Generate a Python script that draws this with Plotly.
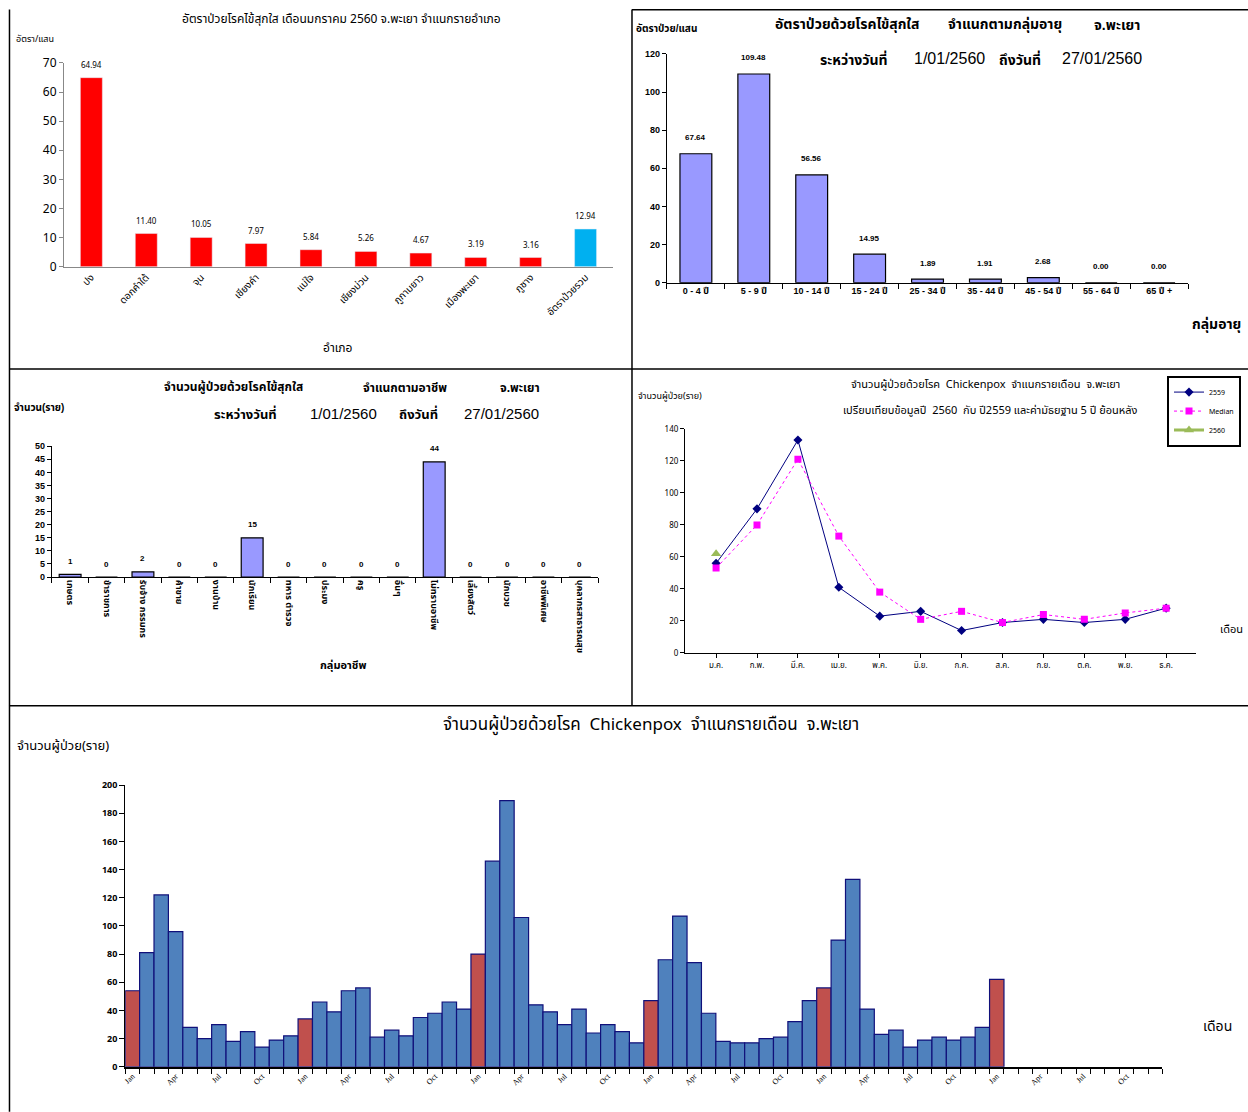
import plotly.graph_objects as go

PAGE_W, PAGE_H = 1248, 1112
FW, FH = PAGE_W, PAGE_H
# measured vertical mapping of the viewer: shown_y = 8 + VS * figure_y
VOFF, VS = 8.0, 1112.0 / 1129.0
FONT = "Tahoma, 'Noto Sans Thai', 'Noto Sans', 'DejaVu Sans', sans-serif"
BFONT = "Arial, 'Liberation Sans', 'Noto Sans Thai', sans-serif"

# ---------------- Data ----------------
district_names = ["ปง", "ดอกคำใต้", "จุน", "เชียงคำ", "แม่ใจ", "เชียงม่วน",
                  "ภูกามยาว", "เมืองพะเยา", "ภูซาง", "อัตราป่วยรวม"]
district_rates = [64.94, 11.40, 10.05, 7.97, 5.84, 5.26, 4.67, 3.19, 3.16, 12.94]

age_groups = ["0 - 4 ปี", "5 - 9 ปี", "10 - 14 ปี", "15 - 24 ปี", "25 - 34 ปี",
              "35 - 44 ปี", "45 - 54 ปี", "55 - 64 ปี", "65 ปี +"]
age_rates = [67.64, 109.48, 56.56, 14.95, 1.89, 1.91, 2.68, 0.00, 0.00]

occupations = ["เกษตร", "ข้าราชการ", "รับจ้าง กรรมกร", "ค้าขาย", "งานบ้าน", "นักเรียน",
               "ทหาร ตำรวจ", "ประมง", "ครู", "อื่นๆ", "ไม่ทราบอาชีพ", "เลี้ยงสัตว์",
               "นักบวช", "อาชีพพิเศษ", "บุคลากรสาธารณสุข"]
occ_cases = [1, 0, 2, 0, 0, 15, 0, 0, 0, 0, 44, 0, 0, 0, 0]

months_th = ["ม.ค.", "ก.พ.", "มี.ค.", "เม.ย.", "พ.ค.", "มิ.ย.",
             "ก.ค.", "ส.ค.", "ก.ย.", "ต.ค.", "พ.ย.", "ธ.ค."]
cases_2559 = [56, 90, 133, 41, 23, 26, 14, 19, 21, 19, 21, 28]
median_5y = [53, 80, 121, 73, 38, 21, 26, 19, 24, 21, 25, 28]
cases_2560 = [62]

months_en = ["Jan", "Feb", "Mar", "Apr", "May", "Jun",
             "Jul", "Aug", "Sep", "Oct", "Nov", "Dec"]
monthly_2555 = [54, 81, 122, 96, 28, 20, 30, 18, 25, 14, 19, 22]
monthly_2556 = [34, 46, 39, 54, 56, 21, 26, 22, 35, 38, 46, 41]
monthly_2557 = [80, 146, 189, 106, 44, 39, 30, 41, 24, 30, 25, 17]
monthly_2558 = [47, 76, 107, 74, 38, 18, 17, 17, 20, 21, 32, 47]
monthly_2559 = cases_2559
monthly_2560 = cases_2560
axis_years = 6

# ---------------- helpers (target pixel -> paper) ----------------
def px_x(p):
    return p / FW

def px_y(p):
    fy = (p - VOFF) / VS
    return 1 - fy / FH

annotations = []

def ann(text, x, y, size, bold=False, xanchor="center", family=FONT):
    annotations.append(dict(
        text=("<b>%s</b>" % text) if bold else text,
        x=px_x(x), y=px_y(y), xref="paper", yref="paper",
        xanchor=xanchor, yanchor="middle", showarrow=False,
        font=dict(size=size, color="black", family=family)))

def bold_list(items):
    return ["<b>%s</b>" % s for s in items]

fig = go.Figure()

# ---------------- Panel 1: district rates ----------------
tl_colors = ["#FF0000"] * (len(district_names) - 1) + ["#00B0F0"]
fig.add_trace(go.Bar(x=district_names, y=district_rates, marker_color=tl_colors,
                     width=0.4, xaxis="x", yaxis="y", showlegend=False))
for n, v in zip(district_names, district_rates):
    annotations.append(dict(text="%.2f" % v, x=n, y=v, xref="x", yref="y",
                            yshift=12, showarrow=False,
                            font=dict(size=8, family=FONT, color="black")))
ann("อัตราป่วยโรคไข้สุกใส เดือนมกราคม 2560 จ.พะเยา จำแนกรายอำเภอ", 340, 18, 12)
ann("อัตรา/แสน", 12, 38, 9, xanchor="left")
ann("อำเภอ", 337, 347, 12)

# ---------------- Panel 2: age groups ----------------
fig.add_trace(go.Bar(x=age_groups, y=age_rates, marker_color="#9999FF",
                     marker_line=dict(color="black", width=1.2),
                     width=0.55, xaxis="x2", yaxis="y2", showlegend=False))
for n, v in zip(age_groups, age_rates):
    annotations.append(dict(text="<b>%.2f</b>" % v, x=n, y=v, xref="x2", yref="y2",
                            yshift=16, showarrow=False,
                            font=dict(size=8, family=BFONT, color="black")))
ann("อัตราป่วย/แสน", 633, 28, 10, bold=True, xanchor="left", family=BFONT)
ann("อัตราป่วยด้วยโรคไข้สุกใส", 772, 24, 14, bold=True, xanchor="left", family=BFONT)
ann("จำแนกตามกลุ่มอายุ", 946, 24, 14, bold=True, xanchor="left", family=BFONT)
ann("จ.พะเยา", 1092, 24, 14, bold=True, xanchor="left", family=BFONT)
ann("ระหว่างวันที่", 817, 58, 14, bold=True, xanchor="left", family=BFONT)
ann("1/01/2560", 911, 58, 16, xanchor="left", family=BFONT)
ann("ถึงวันที่", 997, 58, 14, bold=True, xanchor="left", family=BFONT)
ann("27/01/2560", 1060, 58, 16, xanchor="left", family=BFONT)
ann("กลุ่มอายุ", 1243, 324, 14, bold=True, xanchor="right", family=BFONT)

# ---------------- Panel 3: occupations ----------------
fig.add_trace(go.Bar(x=occupations, y=occ_cases, marker_color="#9999FF",
                     marker_line=dict(color="black", width=1.2),
                     width=0.6, xaxis="x3", yaxis="y3", showlegend=False))
for n, v in zip(occupations, occ_cases):
    annotations.append(dict(text="<b>%d</b>" % v, x=n, y=v, xref="x3", yref="y3",
                            yshift=13, showarrow=False,
                            font=dict(size=8, family=BFONT, color="black")))
ann("จำนวน(ราย)", 10, 407, 10, bold=True, xanchor="left", family=BFONT)
ann("จำนวนผู้ป่วยด้วยโรคไข้สุกใส", 160, 387, 12, bold=True, xanchor="left", family=BFONT)
ann("จำแนกตามอาชีพ", 360, 387, 12, bold=True, xanchor="left", family=BFONT)
ann("จ.พะเยา", 497, 387, 12, bold=True, xanchor="left", family=BFONT)
ann("ระหว่างวันที่", 210, 413, 13, bold=True, xanchor="left", family=BFONT)
ann("1/01/2560", 306, 413, 15, xanchor="left", family=BFONT)
ann("ถึงวันที่", 396, 413, 13, bold=True, xanchor="left", family=BFONT)
ann("27/01/2560", 461, 413, 15, xanchor="left", family=BFONT)
ann("กลุ่มอาชีพ", 342, 665, 11, bold=True, family=BFONT)

# ---------------- Panel 4: monthly comparison ----------------
fig.add_trace(go.Scatter(x=months_th, y=cases_2559, name="2559", mode="lines+markers",
                         line=dict(color="#000080", width=1),
                         marker=dict(symbol="diamond", size=7, color="#000080"),
                         xaxis="x4", yaxis="y4"))
fig.add_trace(go.Scatter(x=months_th, y=median_5y, name="Median", mode="lines+markers",
                         line=dict(color="#FF00FF", width=1, dash="dot"),
                         marker=dict(symbol="square", size=7, color="#FF00FF"),
                         xaxis="x4", yaxis="y4"))
fig.add_trace(go.Scatter(x=months_th[:len(cases_2560)], y=cases_2560, name="2560",
                         mode="lines+markers",
                         line=dict(color="#9BBB59", width=3),
                         marker=dict(symbol="triangle-up", size=9, color="#9BBB59"),
                         xaxis="x4", yaxis="y4"))
ann("จำนวนผู้ป่วยด้วยโรค\u00a0 Chickenpox\u00a0 จำแนกรายเดือน\u00a0 จ.พะเยา", 985, 384, 11)
ann("เปรียบเทียบข้อมูลปี\u00a0 2560\u00a0 กับ ปี2559 และค่ามัธยฐาน 5 ปี ย้อนหลัง", 990, 410, 11)
ann("จำนวนผู้ป่วย(ราย)", 635, 395, 9, xanchor="left")
ann("เดือน", 1231, 629, 11)

# ---------------- Panel 5: long monthly series ----------------
series = monthly_2555 + monthly_2556 + monthly_2557 + monthly_2558 + monthly_2559 + monthly_2560
month_idx = list(range(len(series)))
bar_colors = ["#C0504D" if months_en[i % 12] == "Jan" else "#4F81BD" for i in month_idx]
fig.add_trace(go.Bar(x=month_idx, y=series, marker_color=bar_colors,
                     marker_line=dict(color="#10107A", width=1.2),
                     width=1.0, xaxis="x5", yaxis="y5", showlegend=False))
n_axis = axis_years * 12
tick_pos = list(range(0, n_axis, 3))
ann("จำนวนผู้ป่วยด้วยโรค\u00a0 Chickenpox\u00a0 จำแนกรายเดือน\u00a0 จ.พะเยา", 650, 725, 17)
ann("จำนวนผู้ป่วย(ราย)", 13, 746, 13, xanchor="left")
ann("เดือน", 1217, 1027, 14)

# ---------------- borders ----------------
shapes = []
def hline(y, x0, x1, w=1.5):
    shapes.append(dict(type="line", xref="paper", yref="paper", x0=px_x(x0), x1=px_x(x1),
                       y0=px_y(y), y1=px_y(y), line=dict(color="black", width=w)))
def vline(x, y0, y1, w=1.5):
    shapes.append(dict(type="line", xref="paper", yref="paper", x0=px_x(x), x1=px_x(x),
                       y0=px_y(y0), y1=px_y(y1), line=dict(color="black", width=w)))
vline(7.5, 8.5, 1112)
vline(631, 8.5, 705)
hline(8.8, 631, 1248)
hline(368.5, 7, 1248)
hline(705.5, 7, 1248)

# ---------------- axes ----------------
ax_common = dict(showgrid=False, zeroline=False, showline=True)
fig.update_layout(
    width=FW, height=FH, margin=dict(l=0, r=0, t=0, b=0),
    paper_bgcolor="white", plot_bgcolor="white",
    font=dict(family=FONT, color="black"),
    annotations=annotations, shapes=shapes,
    legend=dict(x=px_x(1241), y=px_y(375), xanchor="right", yanchor="top",
                bordercolor="black", borderwidth=2, bgcolor="white",
                font=dict(size=7, family=FONT), itemwidth=30, tracegroupgap=0),
    # panel 1
    xaxis=dict(domain=[px_x(62), px_x(612)], anchor="y", type="category",
               linecolor="#888888", ticks="", tickangle=-45,
               tickfont=dict(size=10, family=FONT), **ax_common),
    yaxis=dict(domain=[px_y(266), px_y(62)], anchor="x", range=[0, 70], dtick=10,
               linecolor="#888888", ticks="outside", ticklen=4, tickcolor="#888888",
               tickfont=dict(size=12, family=FONT), **ax_common),
    # panel 2
    xaxis2=dict(domain=[px_x(666), px_x(1188)], anchor="y2", type="category",
                tickmode="array", tickvals=age_groups, ticktext=bold_list(age_groups),
                linecolor="black", ticks="outside", tickson="boundaries", ticklen=5,
                tickcolor="black", tickangle=0,
                tickfont=dict(size=9, family=BFONT), **ax_common),
    yaxis2=dict(domain=[px_y(282), px_y(53)], anchor="x2", range=[0, 120], dtick=20,
                linecolor="black", ticks="outside", ticklen=4, tickcolor="black",
                tickfont=dict(size=9, family=BFONT), tickprefix="<b>", ticksuffix="</b>",
                **ax_common),
    # panel 3
    xaxis3=dict(domain=[px_x(50), px_x(597)], anchor="y3", type="category",
                tickmode="array", tickvals=occupations, ticktext=bold_list(occupations),
                linecolor="black", ticks="outside", tickson="boundaries", ticklen=5,
                tickcolor="black", tickangle=90,
                tickfont=dict(size=9, family=BFONT), **ax_common),
    yaxis3=dict(domain=[px_y(576.7), px_y(445.7)], anchor="x3", range=[0, 50], dtick=5,
                linecolor="black", ticks="outside", ticklen=4, tickcolor="black",
                tickfont=dict(size=9, family=BFONT), tickprefix="<b>", ticksuffix="</b>",
                **ax_common),
    # panel 4
    xaxis4=dict(domain=[px_x(684), px_x(1196)], anchor="y4", type="category",
                linecolor="black", ticks="outside", ticklen=4, tickcolor="black",
                tickfont=dict(size=8, family=FONT), **ax_common),
    yaxis4=dict(domain=[px_y(652.7), px_y(428.3)], anchor="x4", range=[0, 140], dtick=20,
                linecolor="black", ticks="outside", ticklen=4, tickcolor="black",
                tickfont=dict(size=8, family=FONT), **ax_common),
    # panel 5
    xaxis5=dict(domain=[px_x(123.4), px_x(1162.3)], anchor="y5",
                range=[-0.5, n_axis - 0.5], tickmode="array", tickvals=tick_pos,
                ticktext=[months_en[i % 12] for i in tick_pos], ticks="",
                tickangle=-45, tickfont=dict(size=8, family="'Liberation Serif', serif"),
                minor=dict(tickmode="array", tickvals=[i - 0.5 for i in range(n_axis + 1)],
                           ticks="outside", ticklen=5, tickcolor="black", showgrid=False),
                linecolor="black", linewidth=1.5, **ax_common),
    yaxis5=dict(domain=[px_y(1067), px_y(785)], anchor="x5", range=[0, 200], dtick=20,
                linecolor="black", ticks="outside", ticklen=5, tickcolor="black",
                tickfont=dict(size=9, family=FONT), tickprefix="<b>", ticksuffix="</b>",
                **ax_common),
)

fig.write_html(
    "out.html",
    config={"displayModeBar": False},
    post_script="document.body.style.margin='0';document.body.style.padding='0';",
)
